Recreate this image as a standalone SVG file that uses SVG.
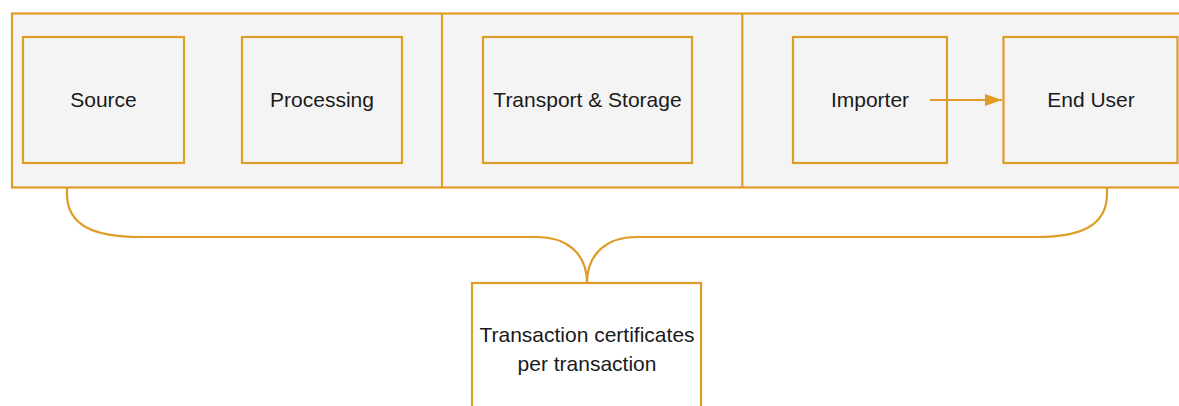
<svg xmlns="http://www.w3.org/2000/svg" width="1179" height="406" viewBox="0 0 1179 406">
<style>
.box{fill:#f4f4f4;stroke:#df9c27;stroke-width:2.2}
.wbox{fill:#ffffff;stroke:#df9c27;stroke-width:2.2}
.ln{fill:none;stroke:#df9c27;stroke-width:2.2}
.t{font-family:"Liberation Sans",Arial,sans-serif;font-size:21px;fill:#1a1a1a;text-anchor:middle}
</style>
<defs>
<marker id="ah" markerWidth="18" markerHeight="12" refX="17" refY="6" orient="auto" markerUnits="userSpaceOnUse">
<path d="M0,0 L17,6 L0,12 z" fill="#df9c27"/>
</marker>
</defs>
<rect x="0" y="0" width="1179" height="406" fill="#fff"/>
<g id="container">
<rect class="box" x="12" y="13.5" width="1180" height="174"/>
<line class="ln" x1="442" y1="13.5" x2="442" y2="187.5"/>
<line class="ln" x1="742.3" y1="13.5" x2="742.3" y2="187.5"/>
</g>
<g id="source"><rect class="box" x="23" y="37" width="161" height="126"/><text class="t" x="103.5" y="107">Source</text></g>
<g id="processing"><rect class="box" x="242" y="37" width="160" height="126"/><text class="t" x="322" y="107">Processing</text></g>
<g id="transport"><rect class="box" x="483" y="37" width="209" height="126"/><text class="t" x="587.5" y="107">Transport &amp; Storage</text></g>
<g id="importer"><rect class="box" x="793" y="37" width="154" height="126"/><text class="t" x="870" y="107">Importer</text></g>
<g id="enduser"><rect class="box" x="1003.5" y="37" width="174" height="126"/><text class="t" x="1091" y="107">End User</text></g>
<g id="certificates"><rect class="wbox" x="472" y="283" width="229" height="140"/><text class="t" x="587" y="342">Transaction certificates</text><text class="t" x="587" y="371">per transaction</text></g>
<g id="connectors">
<line class="ln" x1="930" y1="100" x2="1002" y2="100" marker-end="url(#ah)"/>
<path class="ln" d="M67,188 L67,194 C67,226 95,237 140,237 L537,237 C565,237 587,252 587,283 C587,252 609,237 636,237 L1037,237 C1080,237 1107,226 1107,194 L1107,188"/>
</g>
</svg>
